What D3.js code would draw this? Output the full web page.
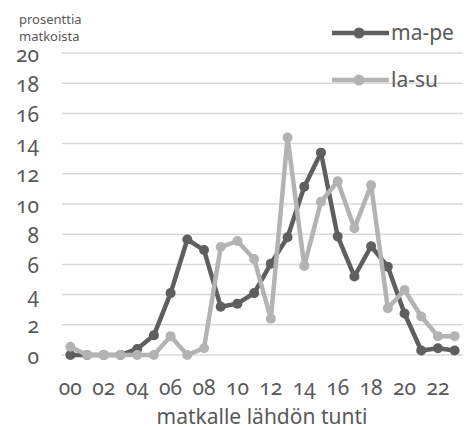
<!DOCTYPE html>
<html>
<head>
<meta charset="utf-8">
<script src="https://cdn.jsdelivr.net/npm/d3@7"></script>
<style>
  body { margin: 0; background: #fff; }
  svg text { font-family: "Noto Sans", "Open Sans", sans-serif; font-feature-settings: "onum" 1; }
</style>
</head>
<body>
<div id="chart"></div>
<script>
// hours of departure
var hours = ["00","01","02","03","04","05","06","07","08","09","10","11",
             "12","13","14","15","16","17","18","19","20","21","22","23"];
var tickLabels = ["00","02","04","06","08","10","12","14","16","18","20","22"];
var yTicks = [0,2,4,6,8,10,12,14,16,18,20];

// percent of trips
var maPe = [0,0,0,0,0.4,1.3,4.1,7.65,6.95,3.2,3.4,4.1,6.05,7.8,11.15,13.4,7.85,5.2,7.2,5.85,2.75,0.3,0.45,0.3];
var laSu = [0.55,0,0,0,0,0,1.25,0,0.45,7.15,7.55,6.35,2.4,14.4,5.9,10.15,11.5,8.4,11.25,3.1,4.3,2.55,1.25,1.25];

var seriesNames = ["ma-pe","la-su"];
var seriesColors = ["#5f5f5f","#b3b3b3"];

width = 473
height = 430
plotLeft = 62
plotRight = 463
plotTop = 53
plotBottom = 355

var svg = d3.select("#chart").append("svg")
  .attr("width", width)
  .attr("height", height)

var x = d3.scaleBand().domain(hours).range([plotLeft, plotRight]).padding(0)
var y = d3.scaleLinear().domain([0, 20]).range([plotBottom, plotTop])

function cx(h) { return x(h) + x.bandwidth()/2 }

// gridlines
svg.append("g").selectAll("line").data(yTicks).enter().append("line")
  .attr("x1", plotLeft).attr("x2", plotRight)
  .attr("y1", function(d){ return y(d) }).attr("y2", function(d){ return y(d) })
  .attr("stroke", "#d9d9d9").attr("stroke-width", 1.5)

// y tick labels (old style figures, baseline below the gridline)
svg.append("g").selectAll("text").data(yTicks).enter().append("text")
  .attr("x", 39)
  .attr("y", function(d){ return y(d) + 8.5 })
  .attr("text-anchor", "end")
  .attr("font-size", 21)
  .attr("fill", "#595959")
  .text(function(d){ return d })

// x tick labels
svg.append("g").selectAll("text").data(tickLabels).enter().append("text")
  .attr("x", function(d){ return cx(d) })
  .attr("y", 395)
  .attr("text-anchor", "middle")
  .attr("font-size", 21)
  .attr("fill", "#595959")
  .text(function(d){ return d })

// axis titles
svg.append("text").attr("x", 262).attr("y", 424)
  .attr("text-anchor", "middle").attr("font-size", 21).attr("fill", "#595959")
  .text("matkalle lähdön tunti")
svg.append("text").attr("x", 19).attr("y", 24)
  .attr("font-size", 13).attr("fill", "#595959").text("prosenttia")
svg.append("text").attr("x", 19).attr("y", 41)
  .attr("font-size", 13).attr("fill", "#595959").text("matkoista")

// lines + markers
var line = d3.line()
  .x(function(d, i){ return cx(hours[i]) })
  .y(function(d){ return y(d) })

var allSeries = [maPe, laSu]
allSeries.forEach(function(vals, s) {
  var g = svg.append("g")
  g.append("path").datum(vals)
    .attr("d", line)
    .attr("fill", "none")
    .attr("stroke", seriesColors[s])
    .attr("stroke-width", 4.5)
    .attr("stroke-linejoin", "round")
  g.selectAll("circle").data(vals).enter().append("circle")
    .attr("cx", function(d, i){ return cx(hours[i]) })
    .attr("cy", function(d){ return y(d) })
    .attr("r", 5)
    .attr("fill", seriesColors[s])
})

// legend
var legY = [33, 80]
seriesNames.forEach(function(name, s) {
  var lg = svg.append("g")
  lg.append("line").attr("x1", 332).attr("x2", 389)
    .attr("y1", legY[s]).attr("y2", legY[s])
    .attr("stroke", seriesColors[s]).attr("stroke-width", 4.5)
  lg.append("circle").attr("cx", 359).attr("cy", legY[s]).attr("r", 5.5)
    .attr("fill", seriesColors[s])
  lg.append("text").attr("x", 391).attr("y", legY[s]).attr("dy", "0.35em")
    .attr("font-size", 21).attr("fill", "#595959").text(name)
})
</script>
</body>
</html>
